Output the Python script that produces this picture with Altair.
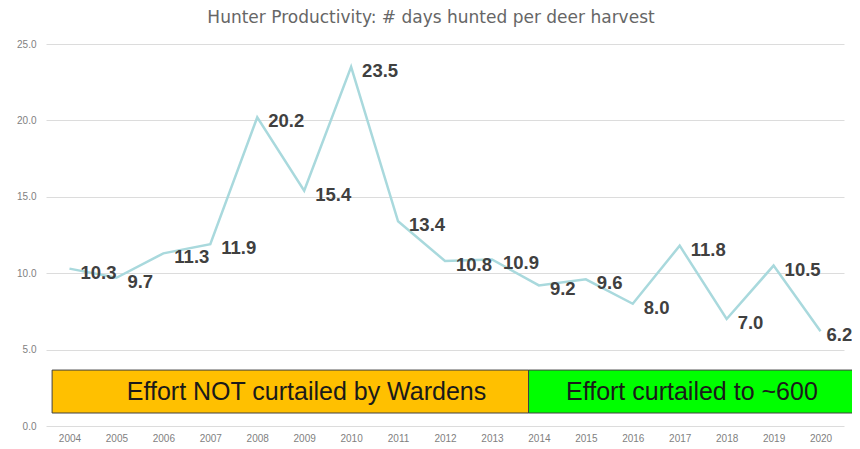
import altair as alt
import pandas as pd

years = list(range(2004, 2021))
values = [10.3, 9.7, 11.3, 11.9, 20.2, 15.4, 23.5, 13.4, 10.8, 10.9, 9.2, 9.6, 8.0, 11.8, 7.0, 10.5, 6.2]

box_labels = ["Effort NOT curtailed by Wardens", "Effort curtailed to ~600"]
box_start = [2003.63, 2013.78]
box_end = [2013.78, 2020.75]
box_text_x = [2009.05, 2017.26]
box_bottom = [0.85, 0.85]
box_top = [3.66, 3.66]
box_mid = [2.25, 2.25]
box_colors = ["#FFC000", "#00FF00"]

df = pd.DataFrame({"year": years, "value": values,
                   "label": [f"{v:.1f}" for v in values]})
boxes = pd.DataFrame({"label": box_labels, "x": box_start, "x2": box_end,
                      "tx": box_text_x, "y": box_bottom, "y2": box_top,
                      "ym": box_mid, "color": box_colors})

xscale = alt.Scale(domain=[2003.5, 2020.5], nice=False, zero=False)
yscale = alt.Scale(domain=[0, 25], nice=False)

x_axis = alt.Axis(values=years, format="d", grid=False, domain=False, ticks=False,
                  labelColor="#7f7f7f", labelFontSize=10, labelPadding=7,
                  labelFont="Liberation Sans", title=None)
y_axis = alt.Axis(values=[0, 5, 10, 15, 20, 25], format=".1f", grid=True,
                  gridColor="#dcdcdc", gridWidth=1, domain=False, ticks=False,
                  labelColor="#7f7f7f", labelFontSize=10, labelPadding=10,
                  labelFont="Liberation Sans", title=None)

base = alt.Chart(df)

line = base.mark_line(color="#a9d9dd", strokeWidth=2.5).encode(
    x=alt.X("year:Q", scale=xscale, axis=x_axis),
    y=alt.Y("value:Q", scale=yscale, axis=y_axis),
)

label_style = dict(align="left", baseline="middle", dy=4, fontSize=18.5,
                   fontWeight="bold", color="#404040", font="Liberation Sans")
label_enc = dict(x=alt.X("year:Q", scale=xscale), y=alt.Y("value:Q", scale=yscale),
                 text="label:N")

labels_main = base.transform_filter(alt.datum.year < years[-1]).mark_text(
    dx=11, **label_style).encode(**label_enc)
labels_last = base.transform_filter(alt.datum.year == years[-1]).mark_text(
    dx=6, **label_style).encode(**label_enc)

rects = alt.Chart(boxes).mark_rect(stroke="#404040", strokeWidth=1, clip=False).encode(
    x=alt.X("x:Q", scale=xscale),
    x2="x2:Q",
    y=alt.Y("y:Q", scale=yscale),
    y2="y2:Q",
    color=alt.Color("color:N", scale=None),
)

rect_text = alt.Chart(boxes).mark_text(fontSize=25, color="#1a1a1a",
                                       font="Liberation Sans", baseline="middle").encode(
    x=alt.X("tx:Q", scale=xscale),
    y=alt.Y("ym:Q", scale=yscale),
    text="label:N",
)

chart = alt.layer(rects, rect_text, line, labels_main, labels_last).properties(
    width=798,
    height=382,
    title=alt.TitleParams("Hunter Productivity: # days hunted per deer harvest",
                          fontSize=17, fontWeight="normal", color="#666666",
                          font="DejaVu Sans", anchor="middle", dx=-14, offset=12),
    padding={"left": 38, "top": 36, "right": 8, "bottom": 18},
    autosize=alt.AutoSizeParams(type="none"),
).configure_view(stroke=None)

chart.save("out.html", embed_options={"renderer": "svg", "actions": False})
